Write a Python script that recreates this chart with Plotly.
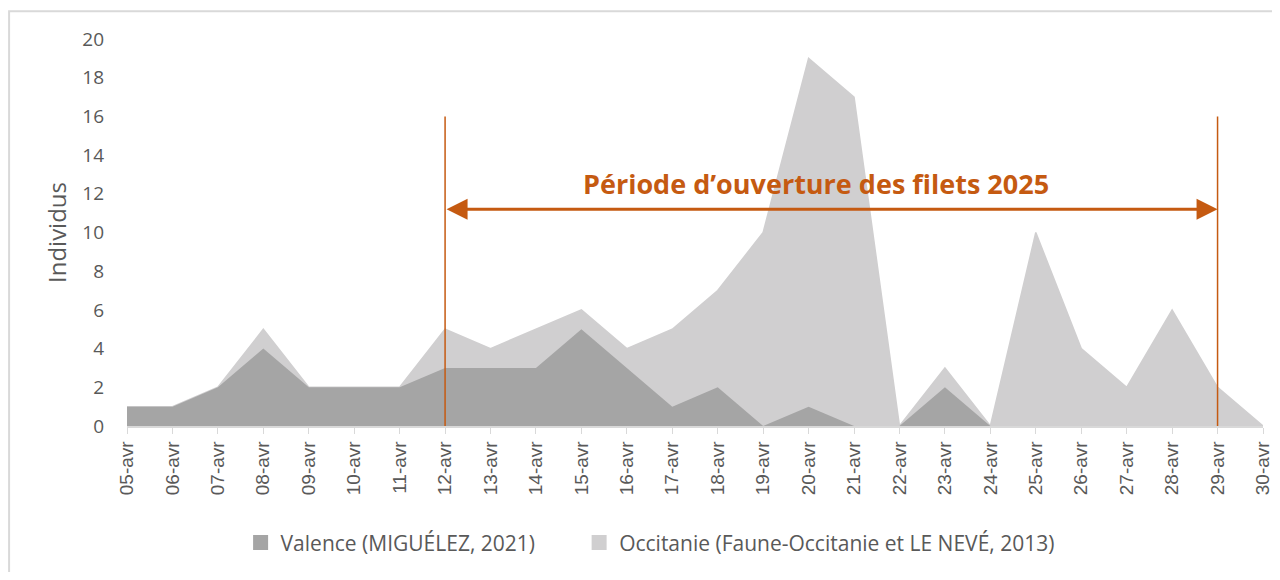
import plotly.graph_objects as go

dates = ["05-avr", "06-avr", "07-avr", "08-avr", "09-avr", "10-avr", "11-avr", "12-avr",
         "13-avr", "14-avr", "15-avr", "16-avr", "17-avr", "18-avr", "19-avr", "20-avr",
         "21-avr", "22-avr", "23-avr", "24-avr", "25-avr", "26-avr", "27-avr", "28-avr",
         "29-avr", "30-avr"]
valence = [1, 1, 2, 4, 2, 2, 2, 3, 3, 3, 5, 3, 1, 2, 0, 1, 0, 0, 2, 0, 0, 0, 0, 0, 0, 0]
occitanie = [1, 1, 2, 5, 2, 2, 2, 5, 4, 5, 6, 4, 5, 7, 10, 19, 17, 0, 3, 0, 10, 4, 2, 6, 2, 0]
y_ticks = [0, 2, 4, 6, 8, 10, 12, 14, 16, 18, 20]
period_start, period_end = "12-avr", "29-avr"
period_label = "Période d’ouverture des filets 2025"
name_val = "Valence (MIGUÉLEZ, 2021)"
name_occ = "Occitanie (Faune-Occitanie et LE NEVÉ, 2013)"

orange = "#C55A11"
txt = "#595959"
c_val = "#A5A5A5"
c_occ = "#D0CFD0"

fig = go.Figure()
fig.add_trace(go.Scatter(
    x=dates, y=occitanie, name=name_occ, showlegend=False,
    mode="lines", fill="tozeroy", fillcolor=c_occ,
    line=dict(color=c_occ, width=1.5)))
fig.add_trace(go.Scatter(
    x=dates, y=valence, name=name_val, showlegend=False,
    mode="lines", fill="tozeroy", fillcolor=c_val,
    line=dict(color=c_val, width=0)))
# legend entries with square swatches
fig.add_trace(go.Scatter(x=[None], y=[None], name=name_val, mode="markers",
                         marker=dict(symbol="square", size=15, color=c_val),
                         legend="legend"))
fig.add_trace(go.Scatter(x=[None], y=[None], name=name_occ, mode="markers",
                         marker=dict(symbol="square", size=15, color=c_occ),
                         legend="legend2"))

for d in (period_start, period_end):
    fig.add_shape(type="line", xref="x", yref="y", x0=d, x1=d, y0=0, y1=16,
                  line=dict(color=orange, width=1.5), layer="above")

fig.add_annotation(x=period_end, y=11.2, ax=period_start, ay=11.2,
                   xref="x", yref="y", axref="x", ayref="y", text="",
                   showarrow=True, arrowhead=2, arrowside="end+start",
                   arrowsize=1.4, arrowwidth=3, arrowcolor=orange)
fig.add_annotation(x=15.16, y=12.55, xref="x", yref="y", text=period_label,
                   showarrow=False,
                   font=dict(family="Open Sans", size=27, color=orange, weight="bold"))

fig.add_shape(type="rect", xref="paper", yref="paper",
              x0=-0.1038, x1=1.05, y0=-0.6, y1=1.072,
              line=dict(color="#D9D9D9", width=2), layer="below")

legend_common = dict(orientation="h", xanchor="left", y=-0.302, yanchor="middle",
                     font=dict(size=21, color=txt), itemwidth=30, bgcolor="rgba(0,0,0,0)")

fig.update_layout(
    width=1264, height=564,
    margin=dict(l=119, r=9, t=31, b=142),
    paper_bgcolor="white", plot_bgcolor="white",
    font=dict(family="Open Sans", color=txt),
    showlegend=True,
    legend=dict(x=0.100, **legend_common),
    legend2=dict(x=0.398, **legend_common),
    xaxis=dict(type="category", range=[0, 25], tickangle=-90, showgrid=False,
               automargin=False,
               showline=True, linecolor="#D9D9D9", linewidth=1.5,
               ticks="outside", ticklen=6, tickcolor="#D9D9D9",
               tickfont=dict(family="Liberation Sans", size=19, color=txt)),
    yaxis=dict(range=[0, 20], tickvals=y_ticks, showgrid=False, showline=False,
               automargin=False,
               zeroline=False, ticks="", ticklabelstandoff=22,
               tickfont=dict(size=19, color=txt),
               title=dict(text="Individus", font=dict(size=24, color=txt), standoff=8)),
)

fig.write_html("out.html")
